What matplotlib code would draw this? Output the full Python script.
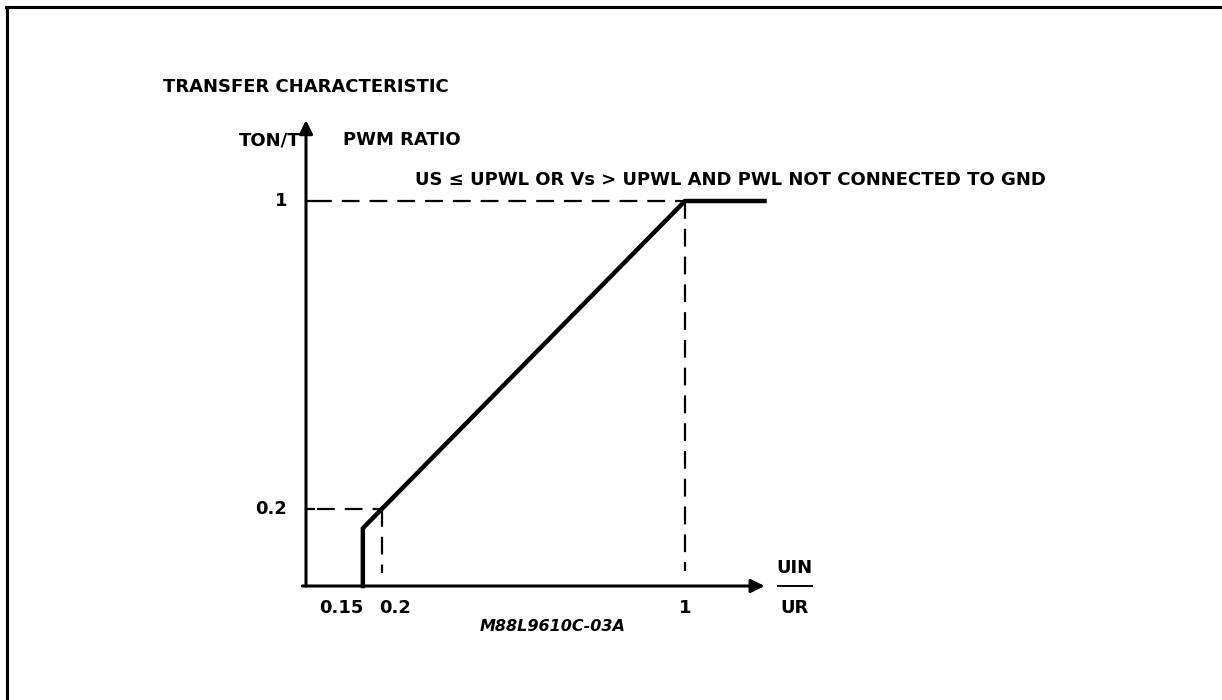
import matplotlib
matplotlib.use("Agg")
import matplotlib.pyplot as plt
from matplotlib.lines import Line2D

# Transfer characteristic: PWM ratio against VIN/VR
curve_x = [0.15, 0.15, 1.0, 1.21]
curve_y = [0.0, 0.15, 1.0, 1.0]

x_ticks = [0.15, 0.2, 1.0]
x_tick_labels = ["0.15", "0.2", "1"]
y_ticks = [0.2, 1.0]
y_tick_labels = ["0.2", "1"]

title = "TRANSFER CHARACTERISTIC"
y_name = "TON/T"
y_desc = "PWM RATIO"
condition = "US \u2264 UPWL OR Vs > UPWL AND PWL NOT CONNECTED TO GND"
x_num, x_den = "UIN", "UR"
ref_code = "M88L9610C-03A"

FONT = dict(family="DejaVu Sans", fontweight="bold", fontsize=13, color="black")

fig = plt.figure(figsize=(12.22, 7.0), dpi=100)
ax = fig.add_axes([0, 0, 1, 1])
# axes spans the whole canvas; origin sits at (306, 586) px, 379 px per x unit, 385 px per y unit
ax.set_xlim(-306 / 379, (1222 - 306) / 379)
ax.set_ylim((586 - 700) / 385, 586 / 385)
ax.axis("off")

# frame lines (top and left only, like the scanned sheet)
fig.add_artist(Line2D([6 / 1222, 1.0], [1 - 7 / 700, 1 - 7 / 700], color="black", lw=2.2))
fig.add_artist(Line2D([7 / 1222, 7 / 1222], [0.0, 1 - 7 / 700], color="black", lw=2.2))

# axes with arrow heads
arrow = dict(arrowstyle="-|>", color="black", lw=2.2, mutation_scale=20, shrinkA=0, shrinkB=0)
ax.annotate("", xy=(1.21, 0), xytext=(-0.01, 0), arrowprops=arrow)
ax.annotate("", xy=(0, 1.21), xytext=(0, 0), arrowprops=arrow)

# dashed guide lines
dash = dict(color="black", lw=1.6, dashes=(8, 4.5))
ax.plot([0.03, y_ticks[0]], [y_ticks[0], y_ticks[0]], **dash)
ax.plot([x_ticks[1], x_ticks[1]], [y_ticks[0], 0.035], **dash)
ax.plot([0.02, y_ticks[1]], [y_ticks[1], y_ticks[1]], **dash)
ax.plot([x_ticks[2], x_ticks[2]], [y_ticks[1], 0.04], **dash)

# the characteristic
ax.plot(curve_x, curve_y, color="black", lw=3.2, solid_joinstyle="miter")

# small tick marks on the y axis
for yv in y_ticks:
    ax.plot([0, 0.02], [yv, yv], color="black", lw=1.6)

# tick labels
x_label_shift = [-0.057, 0.034, 0.0]
for xv, lab, dx in zip(x_ticks, x_tick_labels, x_label_shift):
    ax.text(xv + dx, -0.057, lab, ha="center", va="center", **FONT)
for yv, lab in zip(y_ticks, y_tick_labels):
    ax.text(-0.05, yv, lab, ha="right", va="center", **FONT)

# texts
ax.text(-0.377, 1.296, title, ha="left", va="center", **FONT)
ax.text(-0.015, 1.158, y_name, ha="right", va="center", **FONT)
ax.text(0.098, 1.158, y_desc, ha="left", va="center", **FONT)
ax.text(0.288, 1.055, condition, ha="left", va="center", **FONT)

ax.text(1.29, 0.046, x_num, ha="center", va="center", **FONT)
ax.plot([1.245, 1.336], [0, 0], color="black", lw=1.4)
ax.text(1.29, -0.057, x_den, ha="center", va="center", **FONT)

ax.text(0.65, -0.104, ref_code, ha="center", va="center",
        family="DejaVu Sans", fontweight="bold", fontstyle="italic", fontsize=11.5)

fig.savefig("out.png", dpi=100, facecolor="white")
